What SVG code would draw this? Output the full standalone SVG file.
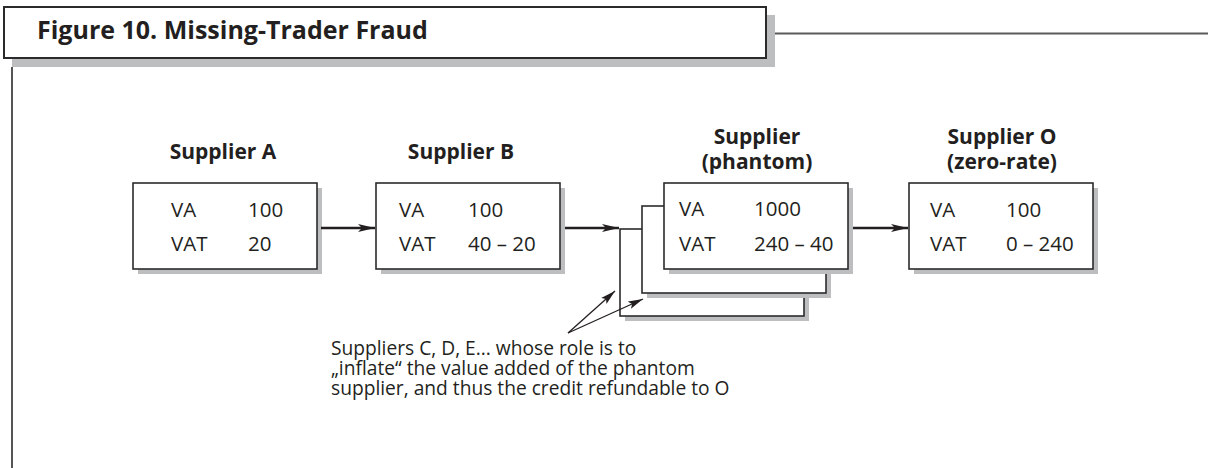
<svg xmlns="http://www.w3.org/2000/svg" width="1208" height="468" viewBox="0 0 1208 468">
  <style>
    .t { font-family: "Open Sans", Lato, "Liberation Sans", sans-serif; fill: #231f20; }
    .title { font-size: 25px; font-weight: bold; }
    .lbl { font-size: 21px; font-weight: bold; text-anchor: middle; }
    .val { font-size: 20.5px; }
    .note { font-size: 19.2px; }
    .box { fill: #ffffff; stroke: #2b2b2b; stroke-width: 1.6; }
    .shadow { fill: #bcbec0; }
    .thick { stroke: #231f20; stroke-width: 2.6; fill: none; }
    .thin { stroke: #231f20; stroke-width: 1.3; fill: none; }
  </style>
  <defs>
    <marker id="ah" markerUnits="userSpaceOnUse" markerWidth="18" markerHeight="10" refX="17" refY="5" orient="auto">
      <path d="M0,1 L17,5 L0,9 L4,5 z" fill="#231f20"/>
    </marker>
    <marker id="ahs" markerUnits="userSpaceOnUse" markerWidth="16" markerHeight="10" refX="15" refY="5" orient="auto">
      <path d="M0,1 L15,5 L0,9 L3,5 z" fill="#231f20"/>
    </marker>
  </defs>

  <g id="title">
    <rect class="shadow" x="12" y="15" width="763" height="52"/>
    <rect x="4" y="7" width="762" height="51" fill="#ffffff" stroke="#2b2b2b" stroke-width="2"/>
    <line x1="775" y1="33.5" x2="1208" y2="33.5" stroke="#5a5a5a" stroke-width="2"/>
    <line x1="12" y1="67" x2="12" y2="468" stroke="#2b2b2b" stroke-width="1.6"/>
    <text class="t title" x="37" y="39">Figure 10. Missing-Trader Fraud</text>
  </g>

  <g id="supplierA">
    <text class="t lbl" x="223" y="159">Supplier A</text>
    <rect class="shadow" x="138" y="188" width="184" height="86"/>
    <rect class="box" x="133" y="183" width="184" height="86"/>
    <text class="t val" x="171" y="217">VA</text>
    <text class="t val" x="248" y="217">100</text>
    <text class="t val" x="171" y="251">VAT</text>
    <text class="t val" x="248" y="251">20</text>
  </g>

  <g id="supplierB">
    <text class="t lbl" x="461" y="159">Supplier B</text>
    <rect class="shadow" x="381" y="188" width="184" height="86"/>
    <rect class="box" x="376" y="183" width="184" height="86"/>
    <text class="t val" x="399" y="217">VA</text>
    <text class="t val" x="468" y="217">100</text>
    <text class="t val" x="399" y="251">VAT</text>
    <text class="t val" x="468" y="251">40 – 20</text>
  </g>

  <g id="supplierPhantom">
    <text class="t lbl" x="757" y="144">Supplier</text>
    <text class="t lbl" x="757" y="169">(phantom)</text>
    <rect class="shadow" x="625" y="234" width="184" height="87"/>
    <rect class="box" x="620" y="229" width="184" height="87"/>
    <rect class="shadow" x="647" y="211" width="184" height="87"/>
    <rect class="box" x="642" y="206" width="184" height="87"/>
    <rect class="shadow" x="669" y="188" width="184" height="86"/>
    <rect class="box" x="664" y="183" width="184" height="86"/>
    <text class="t val" x="679" y="216">VA</text>
    <text class="t val" x="754" y="216">1000</text>
    <text class="t val" x="679" y="251">VAT</text>
    <text class="t val" x="754" y="251">240 – 40</text>
  </g>

  <g id="supplierO">
    <text class="t lbl" x="1002" y="144">Supplier O</text>
    <text class="t lbl" x="1002" y="169">(zero-rate)</text>
    <rect class="shadow" x="914" y="188" width="184" height="86"/>
    <rect class="box" x="909" y="183" width="184" height="86"/>
    <text class="t val" x="930" y="217">VA</text>
    <text class="t val" x="1006" y="217">100</text>
    <text class="t val" x="930" y="251">VAT</text>
    <text class="t val" x="1006" y="251">0 – 240</text>
  </g>

  <g id="note">
    <text class="t note" x="331" y="355">Suppliers C, D, E... whose role is to</text>
    <text class="t note" x="331" y="375">„inflate“ the value added of the phantom</text>
    <text class="t note" x="331" y="395">supplier, and thus the credit refundable to O</text>
  </g>

  <g id="connectors">
    <line class="thick" x1="321" y1="228" x2="375" y2="228" marker-end="url(#ah)"/>
    <line class="thick" x1="565" y1="228" x2="619" y2="228" marker-end="url(#ah)"/>
    <line class="thick" x1="853" y1="228" x2="908" y2="228" marker-end="url(#ah)"/>
    <line class="thin" x1="568" y1="333" x2="615" y2="291" marker-end="url(#ahs)"/>
    <line class="thin" x1="568" y1="333" x2="643" y2="299" marker-end="url(#ahs)"/>
  </g>
</svg>
